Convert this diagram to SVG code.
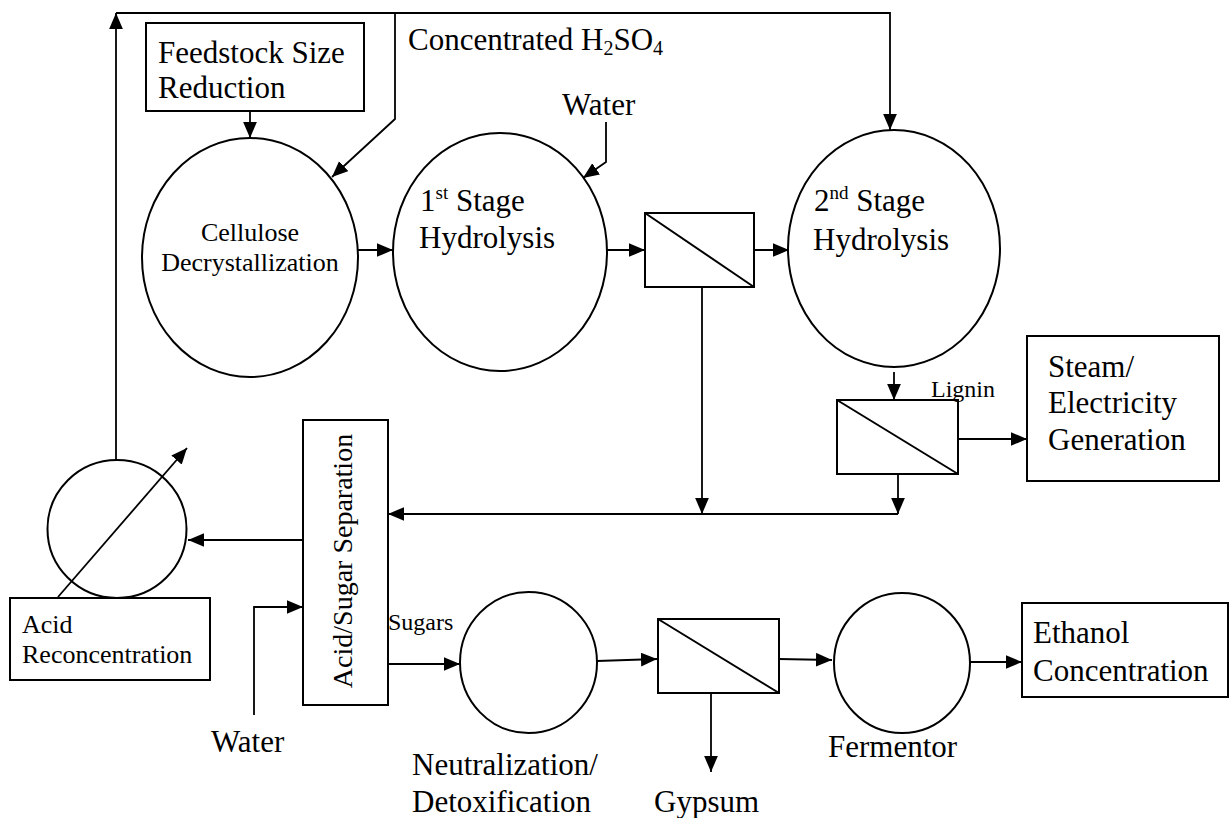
<svg xmlns="http://www.w3.org/2000/svg" width="1230" height="818" viewBox="0 0 1230 818">
<style>
.s{fill:none;stroke:#000;stroke-width:2}
.c{fill:none;stroke:#000;stroke-width:1.8}
.a{marker-end:url(#ah)}
.t{font-family:'Liberation Serif','Times New Roman','DejaVu Serif',serif;fill:#000}
.b{font-size:31px}
.m{font-size:26px}
.sm{font-size:24px}
</style>
<defs>
<marker id="ah" viewBox="0 0 14 12" refX="14" refY="6" markerWidth="16" markerHeight="14" markerUnits="userSpaceOnUse" orient="auto">
<path d="M0,0 L14,6 L0,12 z" fill="#000"/>
</marker>
</defs>
<rect width="1230" height="818" fill="#fff"/>
<g id="connectors">
<polyline class="c a" points="116,460 116,13"/>
<polyline class="c a" points="116,13 890,13 890,130"/>
<polyline class="c a" points="395,13 395,119 332,177"/>
<line class="c a" x1="250" y1="111" x2="250" y2="138"/>
<polyline class="c a" points="606,122 606,162 583,178"/>
<line class="c a" x1="357" y1="250" x2="393" y2="250"/>
<line class="c a" x1="607" y1="250" x2="645" y2="250"/>
<line class="c a" x1="754" y1="250" x2="789" y2="250"/>
<line class="c a" x1="894" y1="372" x2="894" y2="400"/>
<line class="c a" x1="958" y1="439" x2="1027" y2="439"/>
<line class="c a" x1="702" y1="287" x2="702" y2="514"/>
<line class="c a" x1="898" y1="474" x2="898" y2="514"/>
<line class="c a" x1="898" y1="514" x2="388" y2="514"/>
<line class="c a" x1="303" y1="540" x2="188" y2="540"/>
<line class="c a" x1="58" y1="597" x2="187" y2="448"/>
<polyline class="c a" points="254,715 254,607 303,607"/>
<line class="c a" x1="388" y1="664" x2="460" y2="664"/>
<line class="c a" x1="597" y1="661" x2="657" y2="659"/>
<line class="c a" x1="779" y1="659" x2="832" y2="660"/>
<line class="c a" x1="970" y1="662" x2="1022" y2="662"/>
<line class="c a" x1="711" y1="693" x2="711" y2="772"/>
</g>
<g id="feedstock">
<rect class="s" x="146" y="23" width="218" height="88"/>
<text class="t b" font-family="Liberation Serif, serif" x="158" y="63">Feedstock Size</text>
<text class="t b" font-family="Liberation Serif, serif" x="158" y="98">Reduction</text>
</g>
<g id="acid-label">
<text class="t b" font-family="Liberation Serif, serif" x="408" y="50">Concentrated H<tspan font-size="20" dy="5">2</tspan><tspan dy="-5">SO</tspan><tspan font-size="20" dy="5">4</tspan></text>
</g>
<g id="water-top">
<text class="t b" font-family="Liberation Serif, serif" x="562" y="115">Water</text>
</g>
<g id="cellulose">
<ellipse class="s" cx="250" cy="257.5" rx="108" ry="119.5"/>
<text class="t m" font-family="Liberation Serif, serif" x="250" y="241" text-anchor="middle">Cellulose</text>
<text class="t m" font-family="Liberation Serif, serif" x="250" y="271" text-anchor="middle">Decrystallization</text>
</g>
<g id="stage1">
<ellipse class="s" cx="500" cy="252" rx="107" ry="119"/>
<text class="t b" font-family="Liberation Serif, serif" x="420" y="211">1<tspan font-size="19" dy="-12">st</tspan><tspan dy="12"> Stage</tspan></text>
<text class="t b" font-family="Liberation Serif, serif" x="419" y="248">Hydrolysis</text>
</g>
<g id="sep1">
<rect class="s" x="645" y="213" width="109" height="74"/>
<line class="s" x1="645" y1="213" x2="754" y2="287"/>
</g>
<g id="stage2">
<ellipse class="s" cx="894" cy="248.5" rx="106" ry="118.5"/>
<text class="t b" font-family="Liberation Serif, serif" x="814" y="211">2<tspan font-size="19" dy="-12">nd</tspan><tspan dy="12"> Stage</tspan></text>
<text class="t b" font-family="Liberation Serif, serif" x="813" y="250">Hydrolysis</text>
</g>
<g id="sep2">
<rect class="s" x="837" y="400" width="121" height="74"/>
<line class="s" x1="837" y1="400" x2="958" y2="474"/>
<text class="t sm" font-family="Liberation Serif, serif" x="931" y="397">Lignin</text>
</g>
<g id="steam">
<rect class="s" x="1027" y="336" width="192" height="145"/>
<text class="t b" font-family="Liberation Serif, serif" x="1048" y="377">Steam/</text>
<text class="t b" font-family="Liberation Serif, serif" x="1048" y="413">Electricity</text>
<text class="t b" font-family="Liberation Serif, serif" x="1048" y="450">Generation</text>
</g>
<g id="acid-sugar">
<rect class="s" x="303" y="420" width="85" height="285"/>
<text class="t" font-family="Liberation Serif, serif" font-size="28" transform="translate(352,561) rotate(-90)" text-anchor="middle">Acid/Sugar Separation</text>
</g>
<g id="reconc">
<ellipse class="s" cx="117" cy="529" rx="69.5" ry="69"/>
<rect class="s" x="10" y="598" width="200" height="82"/>
<text class="t m" font-family="Liberation Serif, serif" x="22" y="633">Acid</text>
<text class="t m" font-family="Liberation Serif, serif" x="22" y="663">Reconcentration</text>
</g>
<g id="water-bottom">
<text class="t b" font-family="Liberation Serif, serif" x="211" y="752">Water</text>
</g>
<g id="sugars">
<text class="t sm" font-family="Liberation Serif, serif" x="388" y="630">Sugars</text>
</g>
<g id="neutral">
<ellipse class="s" cx="528.5" cy="662.5" rx="68.5" ry="70.5"/>
<text class="t b" font-family="Liberation Serif, serif" x="412" y="775">Neutralization/</text>
<text class="t b" font-family="Liberation Serif, serif" x="412" y="812">Detoxification</text>
</g>
<g id="sep3">
<rect class="s" x="658" y="619" width="121" height="74"/>
<line class="s" x1="658" y1="619" x2="779" y2="693"/>
<text class="t b" font-family="Liberation Serif, serif" x="654" y="812">Gypsum</text>
</g>
<g id="fermentor">
<ellipse class="s" cx="902" cy="663" rx="68" ry="70"/>
<text class="t b" font-family="Liberation Serif, serif" x="828" y="757">Fermentor</text>
</g>
<g id="ethanol">
<rect class="s" x="1022" y="603" width="206" height="94"/>
<text class="t b" font-family="Liberation Serif, serif" x="1033" y="643">Ethanol</text>
<text class="t b" font-family="Liberation Serif, serif" x="1033" y="681">Concentration</text>
</g>
</svg>
